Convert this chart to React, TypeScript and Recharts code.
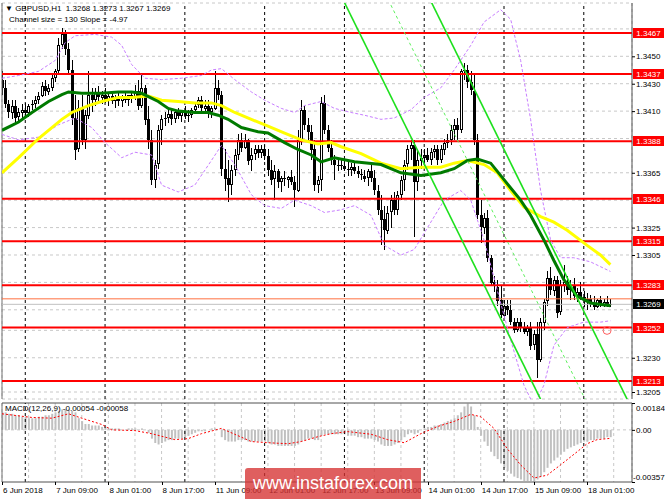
import React from 'react';
import {
  ComposedChart, Bar, Line, XAxis, YAxis, CartesianGrid, ReferenceLine, ReferenceDot,
} from 'recharts';

const FONT = "'Liberation Sans', Arial, sans-serif";

// time axis (H1 bars, index 0 = 6 Jun 17:00)
const timeLabels = ['6 Jun 2018', '7 Jun 09:00', '8 Jun 01:00', '8 Jun 17:00', '11 Jun 09:00', '12 Jun 01:00',
  '12 Jun 17:00', '13 Jun 09:00', '14 Jun 01:00', '14 Jun 17:00', '15 Jun 09:00', '18 Jun 01:00'];
const timeLabelIdx = [0, 16, 32, 48, 64, 80, 96, 112, 128, 144, 160, 176];
const gridIdx = [0, 8, 16, 24, 32, 40, 48, 56, 64, 72, 80, 88, 96, 104, 112, 120, 128, 136, 144, 152, 160, 168, 176, 184];
const daySeparators = [7, 31, 55, 79, 103, 127, 151, 175];

// price axis
const priceTicks = [1.3470, 1.3450, 1.3430, 1.3410, 1.3390, 1.3365, 1.3345, 1.3325, 1.3305, 1.3285, 1.3265, 1.3250, 1.3230, 1.3205];
const levels = [1.3467, 1.3437, 1.3388, 1.3346, 1.3315, 1.3283, 1.3252, 1.3213];
const bidPrice = 1.3269;
const askPrice = 1.3273;

const opens = [
  1.3433, 1.3427, 1.3415, 1.3409, 1.3414, 1.3405, 1.3409, 1.3411, 1.3409, 1.3414, 1.3415, 1.3418, 1.3421, 1.3428, 1.3424, 1.3427,
  1.3434, 1.3439, 1.3458, 1.3466, 1.3455, 1.3440, 1.3405, 1.3382, 1.3412, 1.3389, 1.3407, 1.3422, 1.3418, 1.3424, 1.3420, 1.3422,
  1.3418, 1.3421, 1.3417, 1.3420, 1.3417, 1.3420, 1.3418, 1.3422, 1.3420, 1.3425, 1.3414, 1.3427, 1.3404, 1.3389, 1.3360, 1.3371,
  1.3396, 1.3404, 1.3405, 1.3408, 1.3404, 1.3409, 1.3406, 1.3409, 1.3406, 1.3407, 1.3411, 1.3414, 1.3418, 1.3412, 1.3414, 1.3409,
  1.3412, 1.3427, 1.3422, 1.3368, 1.3361, 1.3356, 1.3367, 1.3378, 1.3389, 1.3383, 1.3389, 1.3374, 1.3378, 1.3382, 1.3379, 1.3382,
  1.3377, 1.3367, 1.3360, 1.3366, 1.3358, 1.3361, 1.3360, 1.3362, 1.3358, 1.3352, 1.3389, 1.3411, 1.3400, 1.3395, 1.3382, 1.3356,
  1.3360, 1.3416, 1.3396, 1.3383, 1.3374, 1.3370, 1.3371, 1.3370, 1.3368, 1.3367, 1.3369, 1.3366, 1.3364, 1.3363, 1.3361, 1.3366,
  1.3361, 1.3352, 1.3338, 1.3331, 1.3323, 1.3336, 1.3345, 1.3338, 1.3349, 1.3360, 1.3371, 1.3382, 1.3385, 1.3358, 1.3374, 1.3376,
  1.3378, 1.3374, 1.3380, 1.3382, 1.3374, 1.3382, 1.3387, 1.3389, 1.3396, 1.3400, 1.3396, 1.3439, 1.3440, 1.3431, 1.3425, 1.3389,
  1.3334, 1.3325, 1.3332, 1.3303, 1.3285, 1.3282, 1.3272, 1.3261, 1.3268, 1.3265, 1.3256, 1.3250, 1.3256, 1.3252, 1.3249, 1.3252,
  1.3239, 1.3247, 1.3228, 1.3256, 1.3271, 1.3288, 1.3279, 1.3287, 1.3263, 1.3283, 1.3285, 1.3279, 1.3283, 1.3275, 1.3278, 1.3274,
  1.3271, 1.3273, 1.3270, 1.3267, 1.3272, 1.3269, 1.3271, 1.3268,
];
const highs = [
  1.3439, 1.3433, 1.3418, 1.3418, 1.3418, 1.3412, 1.3415, 1.3416, 1.3415, 1.3418, 1.3421, 1.3424, 1.3431, 1.3433, 1.3430, 1.3436,
  1.3441, 1.3463, 1.3471, 1.3469, 1.3460, 1.3447, 1.3422, 1.3418, 1.3422, 1.3411, 1.3439, 1.3427, 1.3427, 1.3428, 1.3425, 1.3427,
  1.3424, 1.3425, 1.3422, 1.3423, 1.3422, 1.3425, 1.3422, 1.3425, 1.3429, 1.3433, 1.3438, 1.3429, 1.3414, 1.3396, 1.3374, 1.3400,
  1.3407, 1.3409, 1.3411, 1.3412, 1.3411, 1.3412, 1.3411, 1.3414, 1.3411, 1.3412, 1.3417, 1.3420, 1.3421, 1.3418, 1.3418, 1.3414,
  1.3439, 1.3433, 1.3425, 1.3382, 1.3374, 1.3371, 1.3382, 1.3393, 1.3394, 1.3393, 1.3390, 1.3383, 1.3385, 1.3385, 1.3385, 1.3385,
  1.3382, 1.3374, 1.3371, 1.3368, 1.3363, 1.3366, 1.3363, 1.3367, 1.3363, 1.3396, 1.3418, 1.3414, 1.3405, 1.3400, 1.3389, 1.3363,
  1.3420, 1.3422, 1.3400, 1.3389, 1.3378, 1.3374, 1.3376, 1.3374, 1.3373, 1.3372, 1.3373, 1.3370, 1.3368, 1.3367, 1.3368, 1.3371,
  1.3367, 1.3356, 1.3349, 1.3341, 1.3341, 1.3349, 1.3351, 1.3352, 1.3363, 1.3374, 1.3385, 1.3389, 1.3389, 1.3382, 1.3382, 1.3382,
  1.3383, 1.3383, 1.3385, 1.3385, 1.3385, 1.3390, 1.3393, 1.3400, 1.3404, 1.3405, 1.3441, 1.3445, 1.3444, 1.3439, 1.3436, 1.3393,
  1.3345, 1.3336, 1.3338, 1.3305, 1.3290, 1.3287, 1.3283, 1.3272, 1.3272, 1.3272, 1.3259, 1.3259, 1.3259, 1.3256, 1.3254, 1.3256,
  1.3250, 1.3256, 1.3259, 1.3273, 1.3293, 1.3296, 1.3290, 1.3290, 1.3287, 1.3298, 1.3290, 1.3287, 1.3288, 1.3281, 1.3285, 1.3279,
  1.3277, 1.3276, 1.3275, 1.3273, 1.3275, 1.3273, 1.3275, 1.3273,
];
const lows = [
  1.3422, 1.3412, 1.3405, 1.3404, 1.3400, 1.3402, 1.3405, 1.3406, 1.3406, 1.3411, 1.3412, 1.3415, 1.3420, 1.3421, 1.3422, 1.3425,
  1.3431, 1.3437, 1.3455, 1.3451, 1.3436, 1.3400, 1.3374, 1.3380, 1.3385, 1.3382, 1.3404, 1.3409, 1.3414, 1.3417, 1.3415, 1.3416,
  1.3414, 1.3415, 1.3412, 1.3414, 1.3413, 1.3416, 1.3414, 1.3416, 1.3418, 1.3411, 1.3412, 1.3400, 1.3382, 1.3356, 1.3354, 1.3368,
  1.3385, 1.3399, 1.3401, 1.3400, 1.3401, 1.3404, 1.3402, 1.3404, 1.3402, 1.3405, 1.3408, 1.3412, 1.3409, 1.3408, 1.3405, 1.3405,
  1.3411, 1.3418, 1.3363, 1.3352, 1.3344, 1.3349, 1.3363, 1.3374, 1.3380, 1.3382, 1.3371, 1.3366, 1.3374, 1.3376, 1.3376, 1.3374,
  1.3363, 1.3356, 1.3345, 1.3354, 1.3351, 1.3355, 1.3354, 1.3356, 1.3340, 1.3351, 1.3385, 1.3396, 1.3389, 1.3374, 1.3352, 1.3350,
  1.3352, 1.3393, 1.3380, 1.3371, 1.3360, 1.3366, 1.3367, 1.3366, 1.3363, 1.3363, 1.3364, 1.3361, 1.3360, 1.3358, 1.3355, 1.3358,
  1.3349, 1.3334, 1.3312, 1.3309, 1.3320, 1.3325, 1.3334, 1.3334, 1.3345, 1.3352, 1.3367, 1.3374, 1.3318, 1.3352, 1.3368, 1.3370,
  1.3373, 1.3371, 1.3376, 1.3371, 1.3372, 1.3378, 1.3383, 1.3385, 1.3389, 1.3389, 1.3394, 1.3433, 1.3427, 1.3422, 1.3385, 1.3331,
  1.3314, 1.3320, 1.3300, 1.3283, 1.3278, 1.3268, 1.3259, 1.3259, 1.3261, 1.3254, 1.3248, 1.3249, 1.3249, 1.3247, 1.3246, 1.3236,
  1.3236, 1.3215, 1.3227, 1.3250, 1.3268, 1.3276, 1.3275, 1.3259, 1.3261, 1.3278, 1.3276, 1.3272, 1.3272, 1.3271, 1.3272, 1.3267,
  1.3265, 1.3267, 1.3265, 1.3266, 1.3267, 1.3267, 1.3267, 1.3267,
];
const closes = [
  1.3427, 1.3415, 1.3409, 1.3414, 1.3405, 1.3409, 1.3411, 1.3409, 1.3414, 1.3415, 1.3418, 1.3421, 1.3428, 1.3424, 1.3427, 1.3434,
  1.3439, 1.3458, 1.3466, 1.3455, 1.3440, 1.3405, 1.3382, 1.3412, 1.3389, 1.3407, 1.3422, 1.3418, 1.3424, 1.3420, 1.3422, 1.3418,
  1.3421, 1.3417, 1.3420, 1.3417, 1.3420, 1.3418, 1.3422, 1.3420, 1.3425, 1.3414, 1.3427, 1.3404, 1.3389, 1.3360, 1.3371, 1.3396,
  1.3404, 1.3405, 1.3408, 1.3404, 1.3409, 1.3406, 1.3409, 1.3406, 1.3407, 1.3411, 1.3414, 1.3418, 1.3412, 1.3414, 1.3409, 1.3412,
  1.3427, 1.3422, 1.3368, 1.3361, 1.3356, 1.3367, 1.3378, 1.3389, 1.3383, 1.3389, 1.3374, 1.3378, 1.3382, 1.3379, 1.3382, 1.3377,
  1.3367, 1.3360, 1.3366, 1.3358, 1.3361, 1.3360, 1.3362, 1.3358, 1.3352, 1.3389, 1.3411, 1.3400, 1.3395, 1.3382, 1.3356, 1.3360,
  1.3416, 1.3396, 1.3383, 1.3374, 1.3370, 1.3371, 1.3370, 1.3368, 1.3367, 1.3369, 1.3366, 1.3364, 1.3363, 1.3361, 1.3366, 1.3361,
  1.3352, 1.3338, 1.3331, 1.3323, 1.3336, 1.3345, 1.3338, 1.3349, 1.3360, 1.3371, 1.3382, 1.3385, 1.3358, 1.3374, 1.3376, 1.3378,
  1.3374, 1.3380, 1.3382, 1.3374, 1.3382, 1.3387, 1.3389, 1.3396, 1.3400, 1.3396, 1.3439, 1.3440, 1.3431, 1.3425, 1.3389, 1.3334,
  1.3325, 1.3332, 1.3303, 1.3285, 1.3282, 1.3272, 1.3261, 1.3268, 1.3265, 1.3256, 1.3250, 1.3256, 1.3252, 1.3249, 1.3252, 1.3239,
  1.3247, 1.3228, 1.3256, 1.3271, 1.3288, 1.3279, 1.3287, 1.3263, 1.3283, 1.3285, 1.3279, 1.3283, 1.3275, 1.3278, 1.3274, 1.3271,
  1.3273, 1.3270, 1.3267, 1.3272, 1.3269, 1.3271, 1.3269, 1.3269,
];

// indicator readings: [bar index, value]
const greenMA = [[0, 1.3396], [5, 1.3402], [9, 1.3409], [14, 1.3417], [18, 1.3422], [20, 1.3424], [24, 1.3423], [30, 1.3423],
  [35, 1.3424], [39, 1.3424], [42, 1.3423], [47, 1.3417], [50, 1.3412], [53, 1.3410], [58, 1.3409], [62, 1.3409], [65, 1.3407],
  [68, 1.3404], [72, 1.3398], [77, 1.3395], [80, 1.3394], [85, 1.3387], [89, 1.3382], [93, 1.3378], [96, 1.3373], [100, 1.3376],
  [106, 1.3373], [114, 1.3371], [120, 1.3365], [126, 1.3363], [132, 1.3365], [136, 1.3368], [140, 1.3374], [143, 1.3375],
  [147, 1.3372], [151, 1.3360], [156, 1.3345], [159, 1.3334], [163, 1.3316], [166, 1.3301], [169, 1.3287], [173, 1.3275],
  [177, 1.3270], [183, 1.3268]];
const yellowMA = [[0, 1.3365], [5, 1.3376], [11, 1.3390], [18, 1.3404], [21, 1.3409], [26, 1.3414], [30, 1.3417], [35, 1.3420],
  [39, 1.3420], [44, 1.3421], [48, 1.3418], [53, 1.3417], [58, 1.3416], [63, 1.3416], [66, 1.3414], [70, 1.3409], [75, 1.3404],
  [80, 1.3399], [85, 1.3394], [90, 1.3389], [95, 1.3386], [99, 1.3387], [102, 1.3384], [108, 1.3379], [114, 1.3372], [120, 1.3368],
  [126, 1.3369], [132, 1.3369], [136, 1.3372], [140, 1.3374], [145, 1.3371], [149, 1.3365], [153, 1.3352], [157, 1.3340],
  [162, 1.3333], [166, 1.3329], [170, 1.3323], [176, 1.3312], [180, 1.3305], [183, 1.3298]];
const bandUpper = [[0, 1.3434], [5, 1.3436], [11, 1.3439], [16, 1.3447], [19, 1.3460], [22, 1.3465], [28, 1.3466], [33, 1.3464],
  [36, 1.3458], [39, 1.3444], [43, 1.3434], [48, 1.3433], [54, 1.3434], [60, 1.3436], [63, 1.3440], [66, 1.3441], [70, 1.3433],
  [75, 1.3424], [79, 1.3418], [84, 1.3412], [88, 1.3409], [91, 1.3414], [96, 1.3417], [100, 1.3412], [105, 1.3409], [109, 1.3407],
  [114, 1.3404], [118, 1.3405], [123, 1.3411], [127, 1.3420], [132, 1.3427], [136, 1.3440], [141, 1.3458], [145, 1.3475],
  [150, 1.3484], [153, 1.3477], [156, 1.3447], [159, 1.3404], [162, 1.3352], [165, 1.3316], [168, 1.3303], [172, 1.3303],
  [177, 1.3300], [183, 1.3293]];
const bandLower = [[0, 1.3393], [5, 1.3389], [11, 1.3391], [17, 1.3400], [22, 1.3405], [27, 1.3398], [31, 1.3387], [36, 1.3376],
  [40, 1.3380], [45, 1.3378], [48, 1.3356], [53, 1.3351], [58, 1.3356], [63, 1.3374], [66, 1.3385], [70, 1.3371], [75, 1.3349],
  [79, 1.3341], [84, 1.3339], [88, 1.3345], [93, 1.3341], [97, 1.3336], [102, 1.3338], [106, 1.3341], [111, 1.3334], [115, 1.3312],
  [120, 1.3305], [124, 1.3309], [129, 1.3329], [133, 1.3345], [138, 1.3352], [141, 1.3345], [145, 1.3316], [149, 1.3279],
  [153, 1.3243], [157, 1.3210], [160, 1.3195], [163, 1.3210], [166, 1.3239], [170, 1.3252], [175, 1.3256], [180, 1.3256],
  [183, 1.3257]];
const channelA = [[100, 1.3504], [165, 1.3185]];
const channelMid = [[113, 1.3507], [179, 1.3182]];
const channelB = [[126, 1.3505], [189, 1.3195]];

const macdHist = [
  0.0012, 0.0012, 0.0011, 0.0011, 0.0010, 0.0010,
  0.0009, 0.0009, 0.0008, 0.0008, 0.0008, 0.0009, 0.0009,
  0.0010, 0.0010, 0.0011, 0.0012, 0.0013, 0.0014, 0.0014, 0.0014, 0.0013, 0.0012,
  0.0008, 0.0006,
  0.0004, 0.0004, 0.0003, 0.0003, 0.0003, 0.0002,
  0.0002, 0.0001, 0.0001, 0.0001, 0.0001, 0.0000, 0.0000, 0.0001, 0.0001, 0.0001, 0.0000, 0.0001, 0.0000, -0.0002,
  -0.0006, -0.0009, -0.0010, -0.0009, -0.0008,
  -0.0007, -0.0007, -0.0006, -0.0006, -0.0006, -0.0005,
  -0.0004, -0.0003, -0.0002, -0.0001, -0.0001, -0.0001, 0.0000, 0.0001, 0.0001, 0.0000,
  -0.0005, -0.0007, -0.0008, -0.0008,
  -0.0008, -0.0007, -0.0007, -0.0007, -0.0008, -0.0008, -0.0008, -0.0008, -0.0008, -0.0008,
  -0.0009, -0.0010, -0.0010, -0.0011, -0.0011, -0.0011, -0.0011, -0.0011, -0.0011, -0.0010,
  -0.0008, -0.0007, -0.0006, -0.0006, -0.0007, -0.0007, -0.0004, -0.0003, -0.0003,
  -0.0003, -0.0003, -0.0003, -0.0003, -0.0003, -0.0004,
  -0.0004, -0.0004, -0.0005, -0.0005, -0.0006, -0.0006, -0.0006, -0.0007, -0.0008, -0.0010, -0.0011, -0.0011,
  -0.0011, -0.0010, -0.0009, -0.0007,
  -0.0005, -0.0003, -0.0002, -0.0003, -0.0002, 0.0000,
  0.0001, 0.0002, 0.0002, 0.0003, 0.0003, 0.0004, 0.0005, 0.0006, 0.0007, 0.0008,
  0.0010, 0.0012, 0.0016, 0.0018, 0.0016, 0.0010,
  0.0002, -0.0004, -0.0008, -0.0011, -0.0015, -0.0018,
  -0.0020, -0.0023, -0.0026, -0.0028, -0.0030, -0.0032, -0.0033, -0.0034,
  -0.0035, -0.0035, -0.0035, -0.0035, -0.0034, -0.0032,
  -0.0029, -0.0026, -0.0023, -0.0021,
  -0.0019, -0.0017, -0.0015, -0.0013, -0.0012, -0.0011, -0.0010, -0.0009, -0.0008, -0.0008,
  -0.0007, -0.0007, -0.0006, -0.0006, -0.0006, -0.0005, -0.0005,
];
const signalPts = [[0, 0.0011], [9, 0.00085], [15, 0.0008], [20, 0.0011], [24, 0.0008], [30, 0.00037], [33, 0.0], [40, -0.00005],
  [45, -0.00026], [52, -0.00067], [56, -0.0006], [60, -0.00026], [66, 0.0001], [70, -0.0003], [75, -0.0008], [80, -0.00088],
  [86, -0.00095], [90, -0.0008], [95, -0.00047], [99, -0.00026], [104, -0.00012], [111, -0.0003], [116, -0.00067], [121, -0.00088],
  [126, -0.00026], [131, 0.00023], [136, 0.00058], [141, 0.00106], [144, 0.0009], [148, 0.0001], [152, -0.0013], [156, -0.0024],
  [160, -0.0033], [164, -0.0031], [168, -0.0024], [173, -0.0015], [176, -0.00095], [179, -0.00067], [183, -0.00058]];

const rows: any[] = [];
for (let i = 0; i < 190; i++) rows.push({ i });
opens.forEach((o, i) => {
  Object.assign(rows[i], { o, h: highs[i], l: lows[i], c: closes[i], range: [lows[i], highs[i]], hist: macdHist[i] });
});
const put = (key: string, pts: number[][]) => pts.forEach(([i, v]) => { rows[i][key] = v; });
put('ma1', greenMA);
put('ma2', yellowMA);
put('bbUp', bandUpper);
put('bbDn', bandLower);
put('chA', channelA);
put('chM', channelMid);
put('chB', channelB);
put('signal', signalPts);

function Candle(props: any) {
  const { x, y, width, height, payload } = props;
  if (!payload || payload.o == null) return null;
  const { o, h, l, c } = payload;
  const k = h > l ? height / (h - l) : 0;
  const cx = Math.round(x + width / 2);
  const yo = y + (h - o) * k;
  const yc = y + (h - c) * k;
  const top = Math.round(Math.min(yo, yc));
  const bh = Math.round(Math.abs(yo - yc));
  const bull = c >= o;
  return (
    <g>
      <line x1={cx + 0.5} x2={cx + 0.5} y1={Math.round(y)} y2={Math.round(y + height)} stroke="#000" />
      {bh <= 1 ? (
        <line x1={cx - 1} x2={cx + 2} y1={top + 0.5} y2={top + 0.5} stroke="#000" />
      ) : (
        <rect x={cx - 0.5} y={top + 0.5} width={2} height={bh - 1} fill={bull ? '#fff' : '#000'} stroke="#000" />
      )}
    </g>
  );
}

function PriceTag({ viewBox, value, fill }: any) {
  if (!viewBox) return null;
  const x = viewBox.x + viewBox.width + 1;
  const y = Math.round(viewBox.y);
  return (
    <g>
      <rect x={x} y={y - 5} width={31} height={10} fill={fill} />
      <text x={x + 15.5} y={y + 3} textAnchor="middle" fill="#fff" fontSize={8} fontFamily={FONT}>{value.toFixed(4)}</text>
    </g>
  );
}

function PriceTick({ x, y, payload }: any) {
  const v = payload.value;
  if (levels.some((lv) => Math.abs(lv - v) < 0.0006) || Math.abs(bidPrice - v) < 0.0006) return null;
  return (
    <g>
      <line x1={x} x2={x + 3} y1={y + 0.5} y2={y + 0.5} stroke="#000" />
      <text x={x + 4} y={y + 3} fontSize={8} fontFamily={FONT} fill="#000">{v.toFixed(4)}</text>
    </g>
  );
}

function MacdTick({ x, y, payload }: any) {
  const v = payload.value;
  const label = v === 0 ? '0.00' : v.toFixed(5);
  const dy = v > 0 ? 8 : v < 0 ? -2 : 3;
  return (
    <g>
      <line x1={x} x2={x + 3} y1={y + 0.5} y2={y + 0.5} stroke="#000" />
      <text x={v < 0 ? x + 1 : x + 4} y={y + dy} fontSize={8} fontFamily={FONT} fill="#000">{label}</text>
    </g>
  );
}

function TimeTick({ x, y, payload }: any) {
  const k = timeLabelIdx.indexOf(payload.value);
  if (k < 0) return null;
  return (
    <g>
      <line x1={Math.round(x) + 0.5} x2={Math.round(x) + 0.5} y1={y} y2={y + 3} stroke="#000" />
      <text x={x + 1} y={y + 11} fontSize={8} fontFamily={FONT} fill="#000">{timeLabels[k]}</text>
    </g>
  );
}

export default function App() {
  return (
    <div style={{ position: 'absolute', left: 0, top: 0, width: 665, height: 499, background: '#fff', overflow: 'hidden', fontFamily: FONT }}>
      <div style={{ position: 'absolute', left: 0, top: 0 }}>
        <ComposedChart width={665} height={401} data={rows} margin={{ top: 3, right: 0, bottom: 2, left: 2 }}>
          <CartesianGrid stroke="#c8c8c8" strokeDasharray="3 3" />
          <XAxis dataKey="i" type="number" domain={[0, 189.5]} allowDataOverflow ticks={gridIdx} interval={0}
            tick={false} tickLine={false} height={0} axisLine={{ stroke: '#505050' }} />
          <YAxis orientation="right" type="number" domain={[1.31999, 1.34889]} allowDataOverflow ticks={priceTicks}
            interval={0} width={33} tickSize={0} tickMargin={0} tick={<PriceTick />} axisLine={{ stroke: '#505050' }} />
          <ReferenceLine x={0} stroke="#707070" />
          {daySeparators.map((d) => (
            <ReferenceLine key={'d' + d} x={d} stroke="#000" strokeDasharray="3 3" />
          ))}
          {levels.map((lv) => (
            <ReferenceLine key={'l' + lv} y={lv} stroke="#ff0000" strokeWidth={2}
              label={<PriceTag value={lv} fill="#ff0000" />} />
          ))}
          <ReferenceLine y={askPrice} stroke="#ff7040" />
          <ReferenceLine y={bidPrice} stroke="#c0c0c0" label={<PriceTag value={bidPrice} fill="#000" />} />
          <Line dataKey="bbUp" stroke="#c77dff" strokeDasharray="3 2" dot={false} connectNulls isAnimationActive={false} />
          <Line dataKey="bbDn" stroke="#c77dff" strokeDasharray="3 2" dot={false} connectNulls isAnimationActive={false} />
          <Bar dataKey="range" barSize={3} shape={<Candle />} isAnimationActive={false} />
          <Line dataKey="ma2" stroke="#ffff00" strokeWidth={3} dot={false} connectNulls isAnimationActive={false} />
          <Line dataKey="ma1" stroke="#007a00" strokeWidth={3} dot={false} connectNulls isAnimationActive={false} />
          <Line dataKey="chA" stroke="#1ee01e" strokeWidth={1.6} dot={false} connectNulls isAnimationActive={false} />
          <Line dataKey="chM" stroke="#5ef05e" strokeDasharray="3 3" dot={false} connectNulls isAnimationActive={false} />
          <Line dataKey="chB" stroke="#1ee01e" strokeWidth={1.6} dot={false} connectNulls isAnimationActive={false} />
          <ReferenceDot x={182} y={1.3250} r={4} fill="none" stroke="#ff6060" />
        </ComposedChart>
      </div>
      <div style={{ position: 'absolute', left: 0, top: 402 }}>
        <ComposedChart width={665} height={97} data={rows} margin={{ top: 1, right: 0, bottom: 0, left: 2 }}>
          <CartesianGrid stroke="#c8c8c8" strokeDasharray="3 3" horizontal={false} />
          <XAxis dataKey="i" type="number" domain={[0, 189.5]} allowDataOverflow ticks={gridIdx} interval={0}
            height={17} tickSize={0} tickMargin={0} tick={<TimeTick />} axisLine={{ stroke: '#505050' }} />
          <YAxis orientation="right" type="number" domain={[-0.00357, 0.00184]} allowDataOverflow
            ticks={[-0.00357, 0, 0.00184]} interval={0} width={33} tickSize={0} tickMargin={0}
            tick={<MacdTick />} axisLine={{ stroke: '#505050' }} />
          <ReferenceLine x={0} stroke="#707070" />
          <ReferenceLine y={0.00184} stroke="#505050" />
          <ReferenceLine y={0} stroke="#c8c8c8" strokeDasharray="3 3" />
          {daySeparators.map((d) => (
            <ReferenceLine key={'m' + d} x={d} stroke="#000" strokeDasharray="3 3" />
          ))}
          <Bar dataKey="hist" fill="#c0c0c0" barSize={2} isAnimationActive={false} />
          <Line dataKey="signal" stroke="#ff0000" strokeDasharray="2 2" dot={false} connectNulls isAnimationActive={false} />
        </ComposedChart>
      </div>
      <div style={{ position: 'absolute', left: 5, top: 4, fontSize: 8, color: '#000', whiteSpace: 'pre' }}>
        {'\u25BC GBPUSD,H1  1.3268 1.3273 1.3267 1.3269'}
      </div>
      <div style={{ position: 'absolute', left: 9, top: 15, fontSize: 8, color: '#000', whiteSpace: 'pre' }}>
        {'Channel size = 130 Slope = -4.97'}
      </div>
      <div style={{ position: 'absolute', left: 5, top: 404, fontSize: 8, color: '#000', whiteSpace: 'pre' }}>
        {'MACD(12,26,9) -0.00054 -0.00058'}
      </div>
      <div style={{
        position: 'absolute', left: 245, top: 468, width: 176, height: 31, background: 'rgba(214,50,50,0.78)',
        borderTopLeftRadius: 3, color: '#fff', fontSize: 18, lineHeight: '31px', textAlign: 'center',
      }}>
        www.instaforex.com
      </div>
    </div>
  );
}
